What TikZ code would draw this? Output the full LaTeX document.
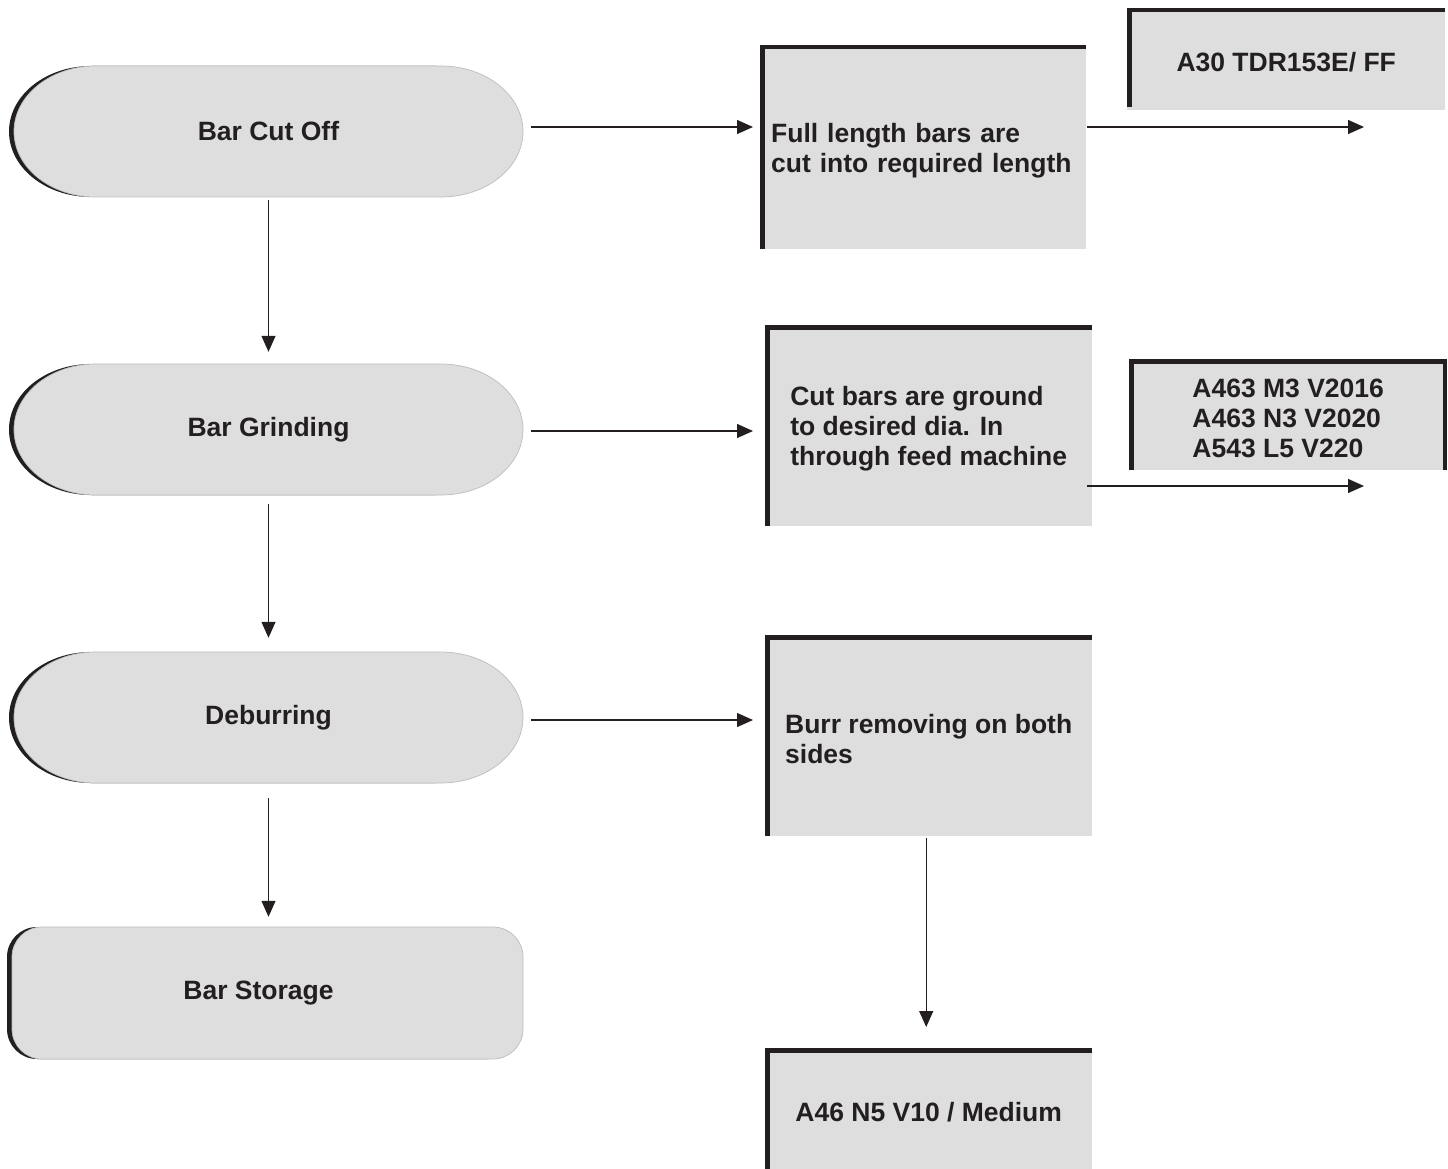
\documentclass[tikz,border=0pt]{standalone}
\usepackage{fontspec}
\setmainfont{Liberation Sans}
\usetikzlibrary{arrows.meta}
\definecolor{boxgray}{HTML}{DEDEDE}
\definecolor{ink}{HTML}{231F20}
\definecolor{edgegray}{HTML}{BDBDBD}
\newcommand{\tstrut}{\rule{0pt}{26pt}}
\newcommand{\stadshape}[5]{%
  \fill[ink,xshift=-5pt] (#1+82,#2) -- (#3-82,#2)
    arc[start angle=90,end angle=-90,x radius=82pt,y radius=#5pt]
    -- (#1+82,#4)
    arc[start angle=270,end angle=90,x radius=82pt,y radius=#5pt] -- cycle;
  \filldraw[fill=boxgray,draw=edgegray,line width=0.7pt] (#1+82,#2) -- (#3-82,#2)
    arc[start angle=90,end angle=-90,x radius=82pt,y radius=#5pt]
    -- (#1+82,#4)
    arc[start angle=270,end angle=90,x radius=82pt,y radius=#5pt] -- cycle;
}
\begin{document}
\begin{tikzpicture}[x=1pt,y=-1pt,
  every node/.style={font=\bfseries\fontsize{26.5}{30}\selectfont, text=ink},
  term/.style={minimum width=509, minimum height=131, inner sep=0},
  procbox/.style={fill=boxgray, anchor=north west, inner sep=0, align=left},
  bar/.style={draw=ink, line width=4.5pt},
  arr/.style={draw=ink, line width=1.3pt, -{Triangle[length=16pt,width=14pt]}}]
\useasboundingbox (0,0) rectangle (1448,1169);

% terminal shapes
\stadshape{14}{66}{523}{197}{65.5}
\stadshape{14}{364}{523}{495}{65.5}
\stadshape{14}{652}{523}{783}{65.5}
\fill[ink,rounded corners=30pt] (7,927) rectangle (518,1059);
\filldraw[fill=boxgray,draw=edgegray,line width=0.7pt,rounded corners=30pt] (12,927) rectangle (523,1059);

\node[term] (cut) at (268.5,131.5) {Bar Cut Off};
\node[term] (grind) at (268.5,429.5) {Bar Grinding};
\node[term] (deb) at (268.5,717.5) {Deburring};
\node[term, minimum width=511, minimum height=132] (store) at (258.5,993) {Bar Storage};

% process boxes
\node[procbox, minimum width=326, minimum height=204, text width=304, inner xsep=11] (b1) at (760,45)
  {\tstrut Full length bars are\\cut into required length};
\node[procbox, minimum width=327, minimum height=201] (b2) at (765,325)
  {\tstrut Cut bars are ground\\to desired dia. In\\through feed machine};
\node[procbox, minimum width=327, minimum height=201] (b3) at (765,635)
  {\tstrut Burr removing on both\\sides};
\node[procbox, minimum width=327, minimum height=121] (b4) at (765,1048)
  {\tstrut A46 N5 V10 / Medium};
\node[procbox, minimum width=318, minimum height=102] (w1) at (1127,8)
  {\tstrut A30 TDR153E/ FF};
\node[procbox, minimum width=318, minimum height=111] (w2) at (1129,359)
  {\tstrut A463 M3 V2016\\A463 N3 V2020\\A543 L5 V220};

% thick borders
\draw[bar] ([shift={(2.25,0)}]b1.south west) -- ([shift={(2.25,2.25)}]b1.north west) -- ([shift={(0,2.25)}]b1.north east);
\draw[bar] ([shift={(2.25,0)}]b2.south west) -- ([shift={(2.25,2.25)}]b2.north west) -- ([shift={(0,2.25)}]b2.north east);
\draw[bar] ([shift={(2.25,0)}]b3.south west) -- ([shift={(2.25,2.25)}]b3.north west) -- ([shift={(0,2.25)}]b3.north east);
\draw[bar] ([shift={(2.25,0)}]b4.south west) -- ([shift={(2.25,2.25)}]b4.north west) -- ([shift={(0,2.25)}]b4.north east);
\draw[bar] ([shift={(2.25,-3)}]w1.south west) -- ([shift={(2.25,2.25)}]w1.north west) -- ([shift={(0,2.25)}]w1.north east);
\draw[bar] ([shift={(2.25,0)}]w2.south west) -- ([shift={(2.25,2.25)}]w2.north west) -- ([shift={(-2.25,2.25)}]w2.north east) -- ([shift={(-2.25,0)}]w2.south east);

% free ends
\coordinate (e1) at (1364,127);
\coordinate (e2) at (1364,486);

% connectors
\draw[arr, shorten <=8pt, shorten >=7pt] ([yshift=4.5pt]cut.east) -- ([yshift=4.5pt]cut.east -| b1.west);
\draw[arr, shorten <=1pt] (b1.east |- e1) -- (e1);
\draw[arr, shorten <=8pt, shorten >=12pt] ([yshift=-1.5pt]grind.east) -- ([yshift=-1.5pt]grind.east -| b2.west);
\draw[arr, shorten <=-5pt] (b2.east |- e2) -- (e2);
\draw[arr, shorten <=8pt, shorten >=12pt] ([yshift=-2.5pt]deb.east) -- ([yshift=-2.5pt]deb.east -| b3.west);

\draw[arr, shorten <=3pt, shorten >=12pt] (cut.south) -- (grind.north);
\draw[arr, shorten <=9pt, shorten >=14pt] (grind.south) -- (deb.north);
\draw[arr, shorten <=15pt, shorten >=10pt] (deb.south) -- (deb.south |- store.north);
\draw[arr, shorten <=2pt, shorten >=21pt] ([xshift=-2.5pt]b3.south) -- ([xshift=-2.5pt]b3.south |- b4.north);
\end{tikzpicture}
\end{document}
